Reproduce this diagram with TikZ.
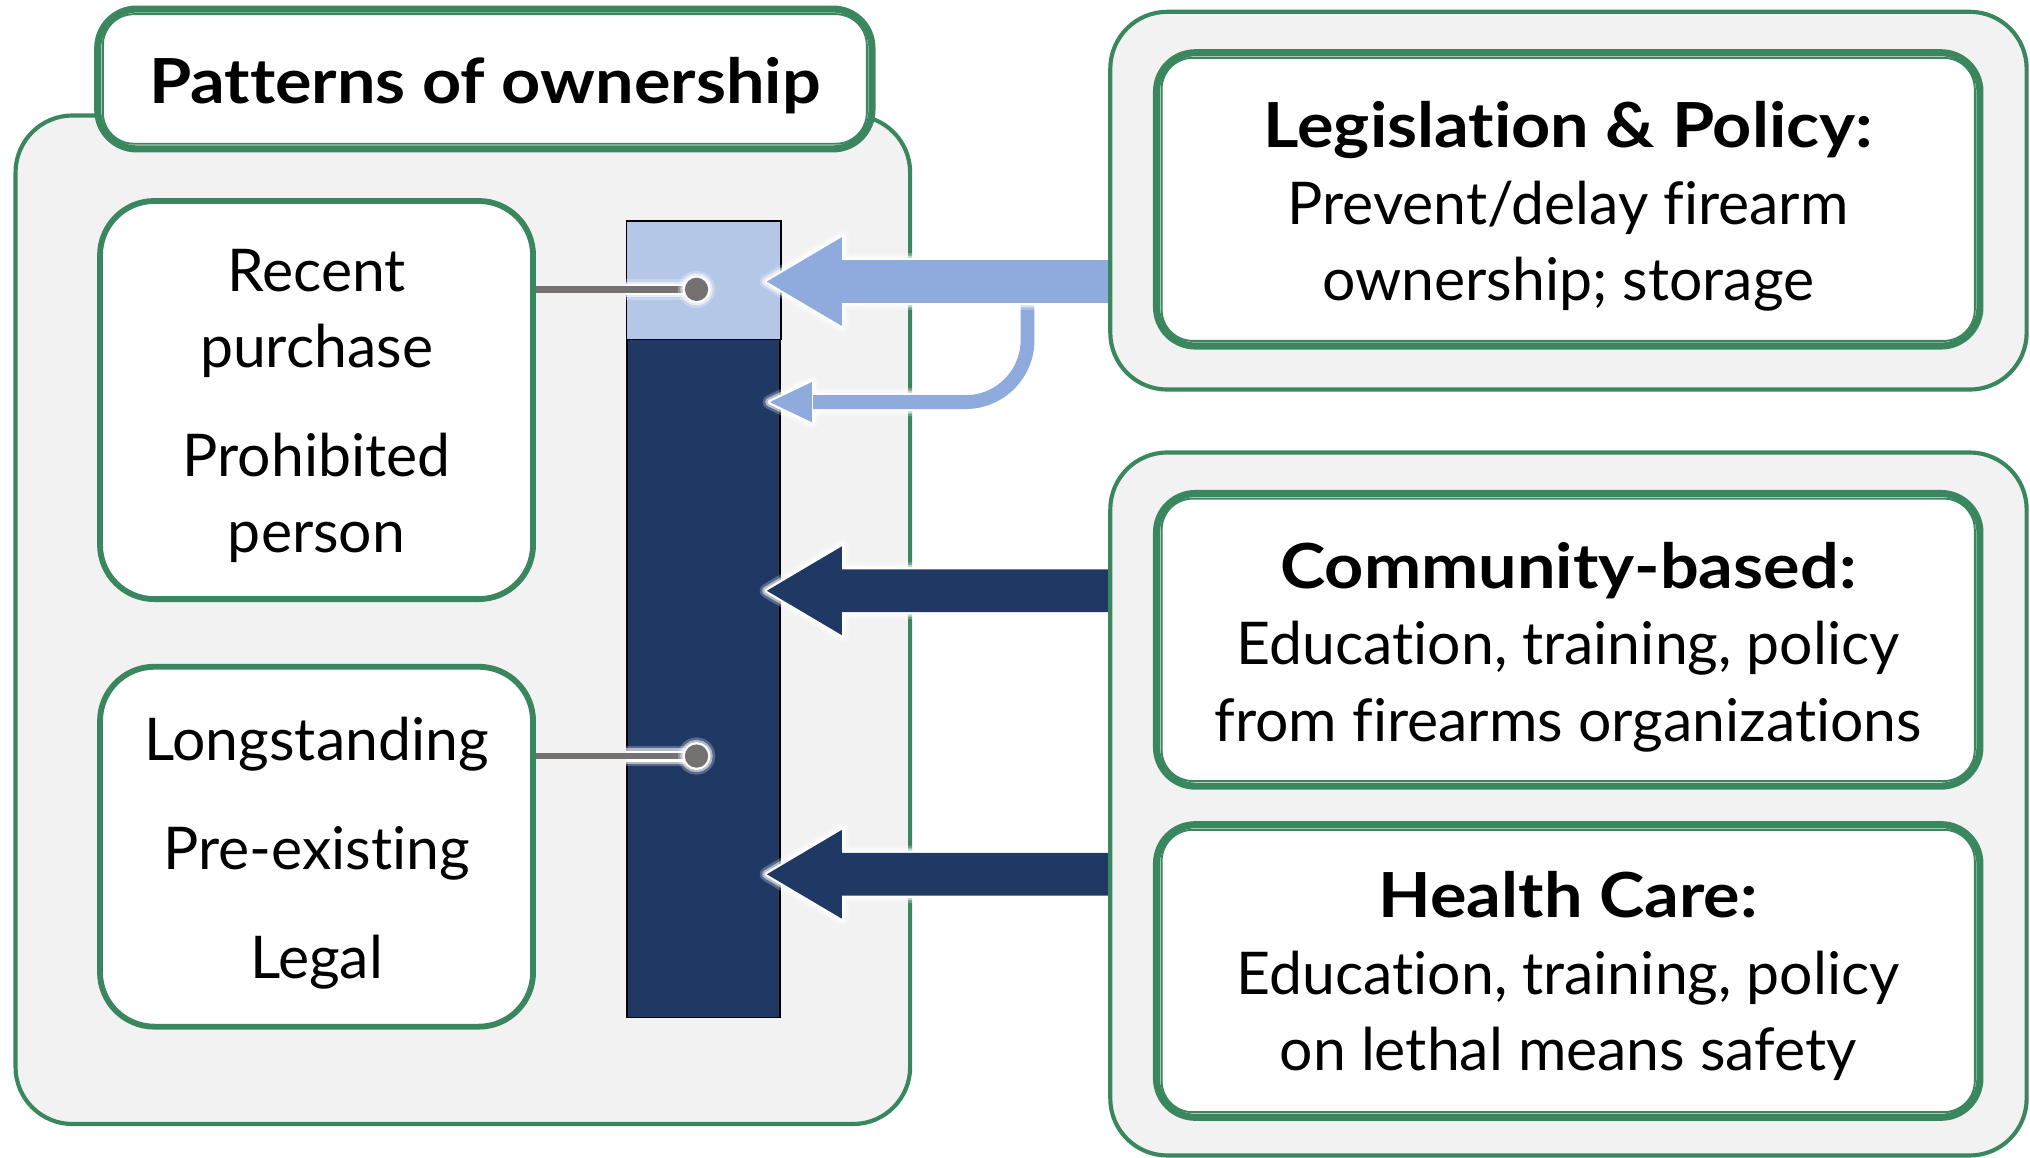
\documentclass[tikz,border=0pt]{standalone}
\usepackage{fontspec}
\setmainfont{Lato}[Ligatures=NoCommon, BoldFeatures={FakeStretch=1.1}]
\usetikzlibrary{calc}
\definecolor{grn}{HTML}{3A875F}
\definecolor{panel}{HTML}{F2F2F2}
\definecolor{lblue}{HTML}{8FAADC}
\definecolor{barlight}{HTML}{B4C7E7}
\definecolor{navy}{HTML}{203864}
\definecolor{conn}{HTML}{767171}
\newcommand\hd[1]{{\fontsize{48}{59}\selectfont\bfseries #1}}
\tikzset{
  panelbox/.style={draw=grn, fill=panel, line width=3.2pt, rounded corners=44pt, inner sep=0pt},
  plainbox/.style={draw=grn, fill=white, line width=4.5pt, rounded corners=42pt, inner sep=0pt},
  dblbox/.style={draw=grn, fill=white, line width=5.5pt, rounded corners=30pt, inner sep=0pt},
  txt/.style={align=center, font=\fontsize{45.5}{59}\selectfont, inner sep=0pt},
  thinline/.style={draw=grn, line width=1.5pt, rounded corners=24pt},
  barbox/.style={draw=black, fill=navy, line width=1.2pt, inner sep=0pt},
  glowy/.style={preaction={draw=white, draw opacity=0.25, line width=11pt, line join=round},
                preaction={draw=white, draw opacity=0.55, line width=7pt, line join=round},
                preaction={draw=white, line width=3.5pt, line join=round}},
  lineglow/.style={preaction={draw=white, draw opacity=0.25, line width=#1+11pt},
                   preaction={draw=white, draw opacity=0.55, line width=#1+7pt},
                   preaction={draw=white, line width=#1+3.5pt}},
}
\newcommand\myblockarrow[3]{% #1 start, #2 tip, #3 colour
  \fill[#3, glowy] (#1) ++(0,-16.5) -- ($(#2)+(58,-16.5)$) -- ($(#2)+(58,-34.3)$) -- (#2)
     -- ($(#2)+(58,34.3)$) -- ($(#2)+(58,16.5)$) -- ($(#1)+(0,16.5)$) -- cycle;}
\newcommand\myinnerline[1]{%
  \draw[thinline] ([xshift=6.7pt,yshift=-6.7pt]#1.north west) rectangle ([xshift=-6.7pt,yshift=6.7pt]#1.south east);}
\begin{document}
\begin{tikzpicture}[x=1pt, y=-1pt]
\useasboundingbox (0,0) rectangle (1568,894);

% left panel
\node[panelbox, minimum width=691pt, minimum height=779pt] (lpanel) at (357.5,478.7) {};
\node[dblbox, minimum width=598pt, minimum height=108pt] (title) at (374.5,61) {};
\myinnerline{title}
\node[txt] (titletxt) at ([yshift=-5pt]title.center) {\hd{Patterns of ownership}};
\node[plainbox, minimum width=334.5pt, minimum height=307.5pt] (recent) at (244.5,309) {};
\node[txt] (recenttxt) at ([yshift=-4.5pt]recent.center) {Recent\\purchase\\[25pt]Prohibited\\person};
\node[plainbox, minimum width=334.5pt, minimum height=278pt] (long) at (244.5,654) {};
\node[txt] (longtxt) at ([yshift=-5pt]long.center) {Longstanding\\[25pt]Pre-existing\\[25pt]Legal};

% bar
\node[barbox, minimum width=118pt, minimum height=614.6pt] (bar) at (543.5,478.5) {};
\draw[black, line width=1.2pt, fill=barlight] (bar.north west) rectangle ([yshift=-91.8pt]bar.north east);

% connectors
\coordinate (dot1) at (538,223.5);
\coordinate (dot2) at (538,584);
\path[lineglow=5pt] (dot1 -| bar.west) -- (dot1);
\draw[conn, line width=5pt] (dot1 -| recent.east) -- (dot1);
\fill[conn, glowy] (dot1) circle[radius=9pt];
\path[lineglow=5pt] (dot2 -| bar.west) -- (dot2);
\draw[conn, line width=5pt] (dot2 -| long.east) -- (dot2);
\fill[conn, glowy] (dot2) circle[radius=9pt];

% right panel positions (needed for arrow starts)
\path (1211.5,155) node[minimum width=707.8pt, minimum height=291.8pt, inner sep=0pt] (rtop) {};
\path (1211.5,621) node[minimum width=707.8pt, minimum height=543pt, inner sep=0pt] (rbot) {};

% small bent arrow
\coordinate (sa) at (793.7,226);
\coordinate (stip) at ([xshift=-8.5pt]bar.east |- 0,310.6);
\coordinate (sback) at ($(stip)+(32.5,0)$);
\draw[white, line width=10.7pt, rounded corners=48pt, lineglow=10.7pt] (sa) |- (sback);
\path[glowy] (stip) -- ($(stip)+(32.5,-15.5)$) -- ($(stip)+(32.5,15.5)$) -- cycle;
\draw[lblue, line width=10.7pt, rounded corners=48pt] (sa) |- ($(sback)+(1,0)$);
\fill[lblue] (stip) -- ($(stip)+(32.5,-15.5)$) -- ($(stip)+(32.5,15.5)$) -- cycle;

% block arrows
\coordinate (a1s) at (rtop.west |- 0,217.5);
\coordinate (a1t) at ([xshift=-10.8pt]bar.east |- a1s);
\myblockarrow{a1s}{a1t}{lblue}
\coordinate (a2s) at (rbot.west |- 0,456.3);
\coordinate (a2t) at ([xshift=-10.8pt]bar.east |- a2s);
\myblockarrow{a2s}{a2t}{navy}
\coordinate (a3s) at (rbot.west |- 0,675.3);
\coordinate (a3t) at ([xshift=-10.8pt]bar.east |- a3s);
\myblockarrow{a3s}{a3t}{navy}

% right panels
\node[panelbox, minimum width=707.8pt, minimum height=291.8pt] (rtopbox) at (rtop) {};
\node[panelbox, minimum width=707.8pt, minimum height=543pt] (rbotbox) at (rbot) {};
\node[dblbox, minimum width=636pt, minimum height=226.5pt] (leg) at (1211.3,154) {};
\myinnerline{leg}
\node[txt] (legtxt) at ([yshift=-5.5pt]leg.center) {\hd{Legislation \& Policy:}\\Prevent/delay firearm\\ownership; storage};
\node[dblbox, minimum width=636pt, minimum height=226pt] (comm) at (1211.3,494.2) {};
\myinnerline{comm}
\node[txt] (commtxt) at ([yshift=-5.5pt]comm.center) {\hd{Community-based:}\\Education, training, policy\\from firearms organizations};
\node[dblbox, minimum width=636pt, minimum height=226pt] (health) at (1211.3,750) {};
\myinnerline{health}
\node[txt] (healthtxt) at ([yshift=-4pt]health.center) {\hd{Health Care:}\\Education, training, policy\\on lethal means safety};
\end{tikzpicture}
\end{document}
